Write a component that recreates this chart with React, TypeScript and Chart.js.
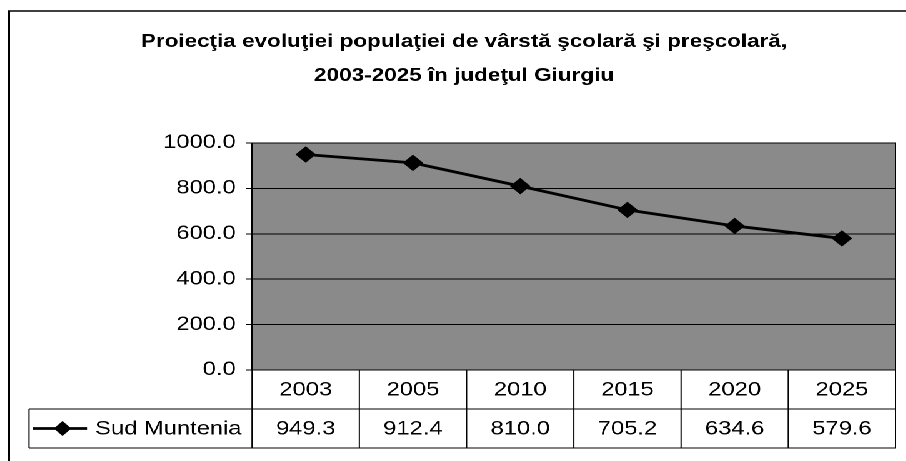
import React, { useEffect, useRef } from 'react';
import { Chart, registerables } from 'chart.js';

Chart.register(...registerables);

// ---- data ----
const TITLE_LINES = [
  'Proiecţia evoluţiei populaţiei de vârstă şcolară şi preşcolară,',
  '2003-2025 în judeţul Giurgiu',
];
const CATEGORIES = ['2003', '2005', '2010', '2015', '2020', '2025'];
const SERIES_NAME = 'Sud Muntenia';
const SERIES_VALUES = [949.3, 912.4, 810.0, 705.2, 634.6, 579.6];
const Y_MIN = 0;
const Y_MAX = 1000;
const Y_STEP = 200;

// ---- layout (the scanned reference is stretched horizontally) ----
const STRETCH = 1.25;
const W = 725;
const H = 461;
const FONT = "'Liberation Sans', Arial, Helvetica, sans-serif";

export default function App() {
  const ref = useRef<HTMLCanvasElement>(null);

  useEffect(() => {
    const canvas = ref.current;
    if (!canvas) return;

    const tablePlugin = {
      id: 'excelTable',
      beforeDraw(chart: any) {
        const { ctx, chartArea: a } = chart;
        ctx.save();
        ctx.fillStyle = '#8a8a8a';
        ctx.fillRect(a.left, a.top, a.right - a.left, a.bottom - a.top);
        ctx.restore();
      },
      afterDraw(chart: any) {
        const { ctx, chartArea: a } = chart;
        const xs = chart.scales.x;
        ctx.save();
        ctx.strokeStyle = '#000';
        ctx.fillStyle = '#000';

        // outer frame
        ctx.lineWidth = 1.6;
        ctx.beginPath();
        ctx.moveTo(7.2, H);
        ctx.lineTo(7.2, 11);
        ctx.lineTo(W, 11);
        ctx.stroke();

        // title
        ctx.font = `bold 18px ${FONT}`;
        ctx.textAlign = 'center';
        ctx.textBaseline = 'middle';
        TITLE_LINES.forEach((t, i) => ctx.fillText(t, 371.2, 42 + i * 34));

        // plot frame
        ctx.lineWidth = 1;
        ctx.strokeRect(a.left, a.top, a.right - a.left, a.bottom - a.top);

        // data table
        const rowH = 39;
        const y0 = a.bottom;
        const y1 = y0 + rowH;
        const y2 = y1 + rowH;
        const legendLeft = 23.2;
        const n = CATEGORIES.length;
        const bounds: number[] = [a.left];
        for (let i = 0; i < n - 1; i++) {
          bounds.push((xs.getPixelForValue(i) + xs.getPixelForValue(i + 1)) / 2);
        }
        bounds.push(a.right);

        ctx.beginPath();
        ctx.moveTo(legendLeft, y1);
        ctx.lineTo(a.right, y1);
        ctx.moveTo(legendLeft, y2);
        ctx.lineTo(a.right, y2);
        ctx.moveTo(legendLeft, y1);
        ctx.lineTo(legendLeft, y2);
        bounds.forEach((b) => {
          ctx.moveTo(b, y0);
          ctx.lineTo(b, y2);
        });
        ctx.stroke();

        ctx.font = `19px ${FONT}`;
        ctx.textAlign = 'center';
        CATEGORIES.forEach((c, i) => {
          const cx = xs.getPixelForValue(i);
          ctx.fillText(c, cx, (y0 + y1) / 2 + 1);
          ctx.fillText(SERIES_VALUES[i].toFixed(1), cx, (y1 + y2) / 2 + 1);
        });

        // legend key
        const ly = (y1 + y2) / 2;
        ctx.lineWidth = 2.8;
        ctx.beginPath();
        ctx.moveTo(26.4, ly);
        ctx.lineTo(69.6, ly);
        ctx.stroke();
        const dx = 50;
        ctx.beginPath();
        ctx.moveTo(dx, ly - 7.5);
        ctx.lineTo(dx + 7, ly);
        ctx.lineTo(dx, ly + 7.5);
        ctx.lineTo(dx - 7, ly);
        ctx.closePath();
        ctx.fill();
        ctx.textAlign = 'left';
        ctx.fillText(SERIES_NAME, 76, ly + 1);

        ctx.restore();
      },
    };

    const chart = new Chart(canvas, {
      type: 'line',
      data: {
        labels: CATEGORIES,
        datasets: [
          {
            label: SERIES_NAME,
            data: SERIES_VALUES,
            borderColor: '#000',
            backgroundColor: '#000',
            borderWidth: 2.8,
            pointStyle: 'rectRot',
            pointRadius: 7.5,
            pointBorderWidth: 1,
            pointBackgroundColor: '#000',
            pointBorderColor: '#000',
            tension: 0,
          },
        ],
      },
      options: {
        responsive: false,
        animation: false,
        devicePixelRatio: 2,
        layout: { padding: { left: 0, right: W - 717.6, top: 143, bottom: 91 } },
        plugins: {
          legend: { display: false },
          title: { display: false },
          tooltip: { enabled: false },
        },
        scales: {
          x: { display: false, offset: true },
          y: {
            min: Y_MIN,
            max: Y_MAX,
            ticks: {
              stepSize: Y_STEP,
              callback: (v: any) => Number(v).toFixed(1),
              color: '#000',
              font: { family: FONT, size: 19 },
              padding: 8,
            },
            grid: { color: '#000', lineWidth: 1, tickLength: 5, tickColor: '#000', drawTicks: true },
            border: { color: '#000', width: 1 },
            afterFit: (s: any) => {
              s.width = 201.6;
            },
          },
        },
      },
      plugins: [tablePlugin],
    } as any);

    return () => chart.destroy();
  }, []);

  return (
    <div
      style={{
        position: 'fixed',
        left: 0,
        top: 0,
        width: W,
        height: H,
        transform: `scaleX(${STRETCH})`,
        transformOrigin: '0 0',
        background: '#fff',
      }}
    >
      <canvas ref={ref} width={W} height={H} />
    </div>
  );
}
